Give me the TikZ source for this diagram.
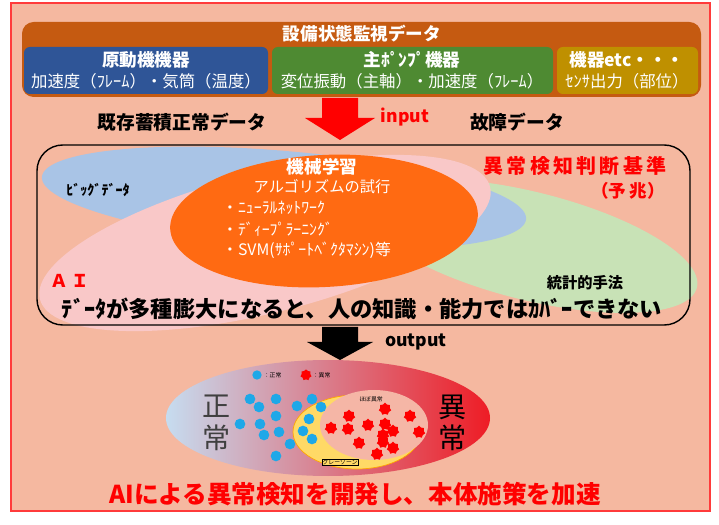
\documentclass[tikz,border=0pt]{standalone}
\usepackage{fontspec}
\setmainfont{Noto Sans CJK JP}
\usetikzlibrary{shapes.geometric}

\definecolor{bgsalmon}{HTML}{F5B8A0}
\definecolor{framered}{HTML}{FF3B3B}
\definecolor{topbrown}{HTML}{C55A11}
\definecolor{boxblue}{HTML}{2F5597}
\definecolor{boxgreen}{HTML}{4E8A32}
\definecolor{boxgold}{HTML}{BF9000}
\definecolor{bigblue}{HTML}{A9C4E6}
\definecolor{bigpink}{HTML}{F9C8C8}
\definecolor{biggreen}{HTML}{C8E2B6}
\definecolor{mlorange}{HTML}{FF6A12}
\definecolor{dotblue}{HTML}{1EA8E8}
\definecolor{okblue}{HTML}{C6DCF0}
\definecolor{ngred}{HTML}{EE1C25}
\definecolor{zoneyellow}{HTML}{FFD966}
\definecolor{zonepink}{HTML}{F5B6A6}

\newcommand{\fs}[1]{\fontsize{#1}{#1}\selectfont}

\begin{document}
\begin{tikzpicture}[x=0.3mm, y=-0.3mm]
  \tikzset{
    whitetxt/.style={text=white, inner sep=0pt},
    headtxt/.style={whitetxt, font=\bfseries\fs{15}},
    subtxt/.style={whitetxt, font=\fs{14}},
    blacktxt/.style={inner sep=0pt, font=\bfseries\fs{15}},
    redtxt/.style={inner sep=0pt, text=red, font=\bfseries\fs{17}},
    mltxt/.style={whitetxt, font=\fs{13.5}, anchor=west},
    okdot/.style={circle, fill=dotblue, inner sep=0pt, minimum size=3.2mm},
    ngdot/.style={star, star points=7, star point ratio=1.3, fill=red, inner sep=0pt, minimum size=3.8mm},
    tinytxt/.style={inner sep=0.5pt, font=\fs{5}},
    vtxt/.style={inner sep=0pt, align=center, font=\fontsize{24}{27}\selectfont}
  }
  \useasboundingbox (0,0) rectangle (719,525);

  % background and frame
  \fill[white] (0,0) rectangle (719,525);
  \filldraw[fill=bgsalmon, draw=framered, line width=1.6pt] (11,3) rectangle (710,511);

  % monitoring data boxes
  \fill[topbrown, rounded corners=10pt] (22,22) rectangle (701,97);
  \fill[boxblue, rounded corners=5pt] (24,47) rectangle (268,94);
  \fill[boxgreen, rounded corners=5pt] (272,47) rectangle (553,94);
  \fill[boxgold, rounded corners=5pt] (557,47) rectangle (698,94);
  \node[headtxt] (mon) at (362,34) {設備状態監視データ};
  \node[headtxt] (eng) at (146,60) {原動機機器};
  \node[subtxt] (engsub) at (146,81) {加速度（ﾌﾚｰﾑ）・気筒（温度）};
  \node[headtxt] (pump) at (412,60) {主ﾎﾟﾝﾌﾟ機器};
  \node[subtxt] (pumpsub) at (412,81) {変位振動（主軸）・加速度（ﾌﾚｰﾑ）};
  \node[headtxt] (etc) at (627,60) {機器etc・・・};
  \node[subtxt] (etcsub) at (627,81) {ｾﾝｻ出力（部位）};

  % input
  \fill[red] (322,98) -- (358,98) -- (358,118) -- (375,118) -- (340,140)
    -- (305,118) -- (322,118) -- cycle;
  \node[blacktxt, font=\bfseries\fs{16}] (normdata) at (182,122) {既存蓄積正常データ};
  \node[blacktxt, text=red] (input) at (405,117) {input};
  \node[blacktxt, font=\bfseries\fs{16}] (faultdata) at (517,122) {故障データ};

  % AI area
  \fill[biggreen, rotate around={-14:(530,246)}] (530,246) ellipse [x radius=172, y radius=54];
  \fill[bigblue, rotate around={-5:(284,198)}] (284,198) ellipse [x radius=243, y radius=47];
  \fill[bigpink, rotate around={14:(265,243)}] (265,243) ellipse [x radius=232, y radius=70];
  \fill[mlorange, rotate around={3:(324,221)}] (324,221) ellipse [x radius=154, y radius=66];
  \draw[line width=1.2pt, rounded corners=22pt] (37,145) rectangle (690,325);

  \node[inner sep=0pt, font=\bfseries\fs{12}] (big) at (98,190) {ﾋﾞｯｸﾞﾃﾞｰﾀ};
  \node[whitetxt, font=\bfseries\fs{15}] (ml) at (322,167) {機械学習};
  \node[whitetxt, font=\fs{13}] (algo) at (322,187) {アルゴリズムの試行};
  \node[mltxt] (nn) at (222,208) {・ﾆｭｰﾗﾙﾈｯﾄﾜｰｸ};
  \node[mltxt] (dl) at (222,229) {・ﾃﾞｨｰﾌﾟﾗｰﾆﾝｸﾞ};
  \node[mltxt] (svm) at (222,250) {・SVM(ｻﾎﾟｰﾄﾍﾞｸﾀﾏｼﾝ)等};
  \node[redtxt, font=\bfseries\fs{17}] (crit) at (575,166) {異\,常\,検\,知\,判\,断\,基\,準};
  \node[redtxt, font=\bfseries\fs{15}] (sign) at (628,191) {（予\,兆）};
  \node[blacktxt, font=\bfseries\fs{13}] (stat) at (585,283) {統計的手法};
  \node[redtxt, font=\bfseries\fs{15}] (ai) at (70,281) {Ａ\,Ｉ};
  \node[blacktxt, font=\bfseries\fs{19}] (limit) at (362,309) {ﾃﾞｰﾀが多種膨大になると、人の知識・能力ではｶﾊﾞｰできない};

  % output
  \fill[black] (322,327) -- (358,327) -- (358,342) -- (373,342) -- (340,360)
    -- (307,342) -- (322,342) -- cycle;
  \node[blacktxt] (output) at (416,342) {output};

  % judgement result
  \shade[left color=okblue, middle color=okblue!45!ngred, right color=ngred]
    (328,418) ellipse [x radius=162, y radius=58];
  \filldraw[fill=zoneyellow, draw=orange!70!yellow, line width=0.6pt] (357,432) ellipse [x radius=64, y radius=37];
  \fill[zonepink] (374,425) ellipse [x radius=54, y radius=35];

  \node[vtxt, text=black!75] (ok) at (217,423) {正\\常};
  \node[vtxt] (ng) at (453,423) {異\\常};

  \node[okdot, minimum size=2.8mm] (legok) at (257,375) {};
  \node[tinytxt, anchor=west] (legoktxt) at (263,375) {：正常};
  \node[ngdot, minimum size=3.4mm] (legng) at (306,375) {};
  \node[tinytxt, anchor=west] (legngtxt) at (312,375) {：異常};

  \foreach \p in {(250,399),(259,407),(276,399),(297,406),(312,399),(321,407),
                  (240,424),(260,424),(276,416),(309,419),(264,435),(279,432),
                  (303,431),(312,439),(290,444),(276,456)}
    \node[okdot] at \p {};
  \foreach \p in {(349,416),(385,409),(410,416),(331,428),(348,429),(368,425),
                  (385,424),(393,431),(383,435),(419,432),(359,443),(383,442),
                  (393,448),(377,454)}
    \node[ngdot] at \p {};

  \node[tinytxt] (nglabel) at (371,399) {ほぼ異常};
  \node[tinytxt, draw, fill=zoneyellow, line width=0.3pt] (graylabel) at (340,462) {グレーゾーン};

  % conclusion
  \node[redtxt, font=\bfseries\fs{21}] (goal) at (355,494) {AIによる異常検知を開発し、本体施策を加速};
\end{tikzpicture}
\end{document}
